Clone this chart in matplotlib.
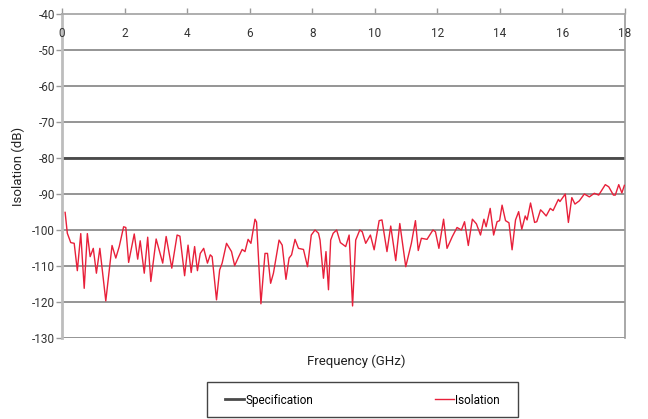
import matplotlib
matplotlib.use("Agg")
import matplotlib.pyplot as plt
from matplotlib.patches import Rectangle

plt.rcParams['font.family'] = ['Roboto', 'DejaVu Sans']

freq = [0.10, 0.17, 0.28, 0.39, 0.49, 0.60, 0.71, 0.81, 0.90, 1.00, 1.10, 1.21, 1.40, 1.60, 1.72,
        1.83, 1.97, 2.04, 2.13, 2.31, 2.42, 2.50, 2.63, 2.74, 2.84, 3.01, 3.22, 3.33, 3.51, 3.68,
        3.77, 3.92, 4.03, 4.13, 4.24, 4.33, 4.42, 4.53, 4.65, 4.74, 4.80, 4.94, 5.04, 5.12, 5.26,
        5.42, 5.52, 5.65, 5.76, 5.85, 5.95, 6.04, 6.17, 6.22, 6.36, 6.49, 6.57, 6.67, 6.76, 6.94,
        7.04, 7.16, 7.26, 7.34, 7.45, 7.56, 7.72, 7.85, 7.97, 8.09, 8.20, 8.25, 8.36, 8.44, 8.52,
        8.59, 8.67, 8.78, 8.90, 9.07, 9.18, 9.29, 9.39, 9.52, 9.60, 9.71, 9.86, 9.98, 10.14, 10.23,
        10.39, 10.51, 10.67, 10.80, 10.99, 11.17, 11.30, 11.39, 11.49, 11.67, 11.86, 11.94, 12.05,
        12.20, 12.31, 12.48, 12.63, 12.77, 12.87, 12.99, 13.12, 13.25, 13.38, 13.49, 13.56, 13.69,
        13.80, 13.91, 13.99, 14.07, 14.18, 14.29, 14.39, 14.50, 14.60, 14.70, 14.81, 14.87, 14.98,
        15.11, 15.18, 15.30, 15.37, 15.48, 15.61, 15.70, 15.87, 15.92, 16.09, 16.19, 16.30, 16.40,
        16.54, 16.70, 16.86, 17.02, 17.16, 17.37, 17.48, 17.63, 17.69, 17.80, 17.90, 17.98]
isolation = [-95.1, -100.9, -103.5, -103.7, -111.3, -101.0, -116.2, -101.0, -107.4, -105.1, -112.0,
             -105.1, -119.7, -104.3, -107.8, -104.6, -99.1, -99.3, -109.0, -101.1, -108.1, -103.0,
             -112.0, -102.0, -114.3, -102.5, -109.2, -101.8, -110.6, -101.4, -101.7, -112.7, -104.2,
             -111.8, -104.6, -111.3, -106.5, -105.1, -109.2, -106.9, -107.4, -119.4, -111.1, -109.2,
             -103.7, -106.0, -109.9, -107.4, -105.4, -106.0, -102.6, -103.7, -97.0, -97.8, -120.5,
             -106.5, -106.5, -114.8, -112.0, -102.8, -104.2, -113.7, -107.8, -106.9, -102.6, -105.1,
             -105.4, -110.2, -101.4, -100.0, -100.9, -102.8, -113.4, -106.0, -116.6, -102.8, -100.9,
             -100.0, -103.5, -104.6, -101.4, -121.1, -102.8, -100.0, -100.5, -103.7, -101.4, -105.5,
             -97.4, -97.2, -106.0, -98.9, -108.5, -98.2, -110.2, -103.7, -97.4, -105.7, -102.3,
             -102.6, -100.0, -100.5, -105.1, -97.0, -105.1, -101.8, -99.3, -100.0, -97.7, -104.3,
             -97.0, -98.3, -101.4, -97.0, -99.1, -94.0, -101.4, -97.7, -97.4, -93.1, -97.4, -98.0,
             -105.5, -97.2, -94.9, -99.8, -96.1, -97.2, -92.5, -97.9, -97.7, -94.4, -95.0, -96.1,
             -94.0, -94.6, -91.5, -92.1, -90.0, -97.9, -91.0, -92.8, -91.9, -90.0, -90.8, -89.8,
             -90.3, -87.4, -88.0, -90.3, -90.3, -87.4, -89.7, -87.6]

spec_level = [-80, -80]
spec_freq = [0, 18]

x_ticks = [0, 2, 4, 6, 8, 10, 12, 14, 16, 18]
y_ticks = [-40, -50, -60, -70, -80, -90, -100, -110, -120, -130]

fig = plt.figure(figsize=(6.48, 4.19), dpi=100)
ax = fig.add_axes([62/648, 1-338/419, 563/648, 324/419])

for yv in y_ticks[1:]:
    ax.axhline(yv, color='#8c8c8c', lw=1.3, zorder=1)

ax.plot(spec_freq, spec_level, color='#4a4a4a', lw=2.0, label='Specification', zorder=2)
ax.plot(freq, isolation, color='#e8203a', lw=1.0, label='Isolation', zorder=3)

ax.set_xlim(0, 18)
ax.set_ylim(-130, -40)
ax.set_yticks(y_ticks)
ax.set_yticklabels([str(v) for v in y_ticks], fontsize=8.5, color='#333333')
ax.tick_params(axis='y', direction='out', length=4, width=1, color='#9a9a9a', pad=1)

ax.set_xticks(x_ticks)
ax.xaxis.set_ticks_position('top')
ax.tick_params(axis='x', direction='out', length=4, width=1, color='#9a9a9a',
               labeltop=False, labelbottom=False)
for xv in x_ticks:
    ax.text(xv, -45.3, str(xv), ha='center', va='center', fontsize=8.5, color='#333333')

ax.spines['left'].set_color('#bdbdbd')
ax.spines['left'].set_linewidth(2)
ax.spines['top'].set_color('#a8a8a8')
ax.spines['top'].set_linewidth(1.3)
ax.spines['right'].set_color('#9a9a9a')
ax.spines['right'].set_linewidth(1.2)
ax.spines['bottom'].set_visible(False)

ax.set_ylabel('Isolation (dB)', fontsize=9.5, color='#222222')
ax.yaxis.set_label_coords(-0.066, 0.528)
ax.set_xlabel('Frequency (GHz)', fontsize=9.5, color='#222222')
ax.xaxis.set_label_position('bottom')
ax.xaxis.set_label_coords(0.522, -0.052)

leg = fig.legend(loc='center', bbox_to_anchor=(362.5/648, 1-400/419), ncol=2,
                 fontsize=8.5, frameon=False, handlelength=1.6,
                 handletextpad=0.1, columnspacing=10.3, borderpad=0.7)

fig.patches.append(Rectangle((207/648, 1-417/419), 311/648, 35/419,
                             transform=fig.transFigure, fill=False,
                             edgecolor='#444444', linewidth=1.0))

fig.savefig('out.png', dpi=100)
